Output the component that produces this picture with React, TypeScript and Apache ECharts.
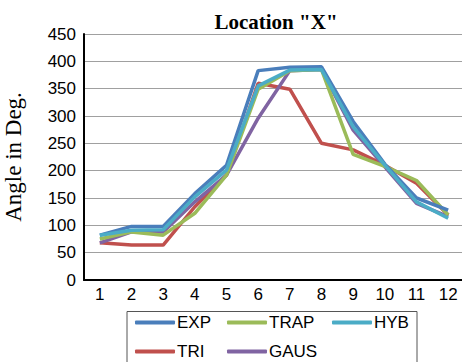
import React, { useEffect, useRef } from "react";
import * as echarts from "echarts";

const categories = ["1", "2", "3", "4", "5", "6", "7", "8", "9", "10", "11", "12"];
const expValues = [82, 98, 98, 158, 210, 383, 389, 390, 290, 212, 150, 128];
const trapValues = [75, 88, 82, 122, 192, 349, 383, 385, 230, 208, 182, 119];
const hybValues = [82, 91, 92, 152, 201, 355, 384, 385, 280, 210, 143, 113];
const triValues = [68, 64, 64, 134, 192, 360, 349, 250, 238, 210, 177, 119];
const gausValues = [68, 88, 88, 143, 192, 296, 383, 385, 274, 207, 140, 116];

const seriesNames = ["EXP", "TRAP", "HYB", "TRI", "GAUS"];
const seriesColors = ["#4A7EBB", "#9BBB59", "#4BACC6", "#C0504D", "#8064A2"];

export default function App() {
  const ref = useRef<HTMLDivElement>(null);
  useEffect(() => {
    if (!ref.current) return;
    const chart = echarts.init(ref.current, null, { renderer: "svg" });
    const values = [expValues, trapValues, hybValues, triValues, gausValues];
    const legendPos = [
      [135, 314],
      [227, 314],
      [332, 314],
      [135, 343],
      [227, 343],
    ];
    // draw order: TRI, GAUS, TRAP, EXP, HYB on top
    const order = [3, 4, 1, 0, 2];
    chart.setOption({
      animation: false,
      title: {
        text: 'Location "X"',
        left: 271,
        top: 6,
        textAlign: "center",
        textStyle: { fontFamily: "Liberation Serif", fontWeight: "bold", fontSize: 21, color: "#000" },
      },
      grid: { left: 84, top: 34, width: 380, height: 246, containLabel: false, outerBoundsMode: "none" },
      legend: seriesNames.map((n, i) => ({
        data: [n],
        left: legendPos[i][0],
        top: legendPos[i][1],
        icon: "roundRect",
        itemWidth: 40,
        itemHeight: 4,
        itemGap: 0,
        padding: 0,
        textStyle: { fontFamily: "Liberation Sans", fontSize: 17, color: "#000", padding: [0, 0, 0, -3] },
        selectedMode: false,
      })),
      graphic: [
        {
          type: "rect",
          shape: { x: 127, y: 311.5, width: 290, height: 60 },
          style: { fill: "none", stroke: "#555", lineWidth: 1 },
          z: -1,
        },
      ],
      xAxis: {
        type: "category",
        data: categories,
        boundaryGap: true,
        axisLine: { lineStyle: { color: "#000", width: 2 } },
        axisTick: { show: false },
        axisLabel: { fontFamily: "Liberation Sans", fontSize: 17, color: "#000", margin: 6 },
      },
      yAxis: {
        type: "value",
        min: 0,
        max: 450,
        interval: 50,
        name: "Angle in Deg.",
        nameLocation: "middle",
        nameGap: 59,
        nameTextStyle: { fontFamily: "Liberation Serif", fontSize: 23, color: "#000" },
        axisLine: { show: true, lineStyle: { color: "#000", width: 2 } },
        axisTick: { show: false },
        splitLine: { lineStyle: { color: "#A0A0A0", width: 1 } },
        axisLabel: { fontFamily: "Liberation Sans", fontSize: 17, color: "#000", margin: 8 },
      },
      series: order.map((i) => ({
        name: seriesNames[i],
        type: "line",
        data: values[i],
        symbol: "none",
        color: seriesColors[i],
        lineStyle: { width: 3.5, color: seriesColors[i] },
      })),
    });
    return () => chart.dispose();
  }, []);
  return (
    <div
      ref={ref}
      style={{ position: "fixed", left: 0, top: 0, width: 462, height: 362, background: "#fff" }}
    />
  );
}
